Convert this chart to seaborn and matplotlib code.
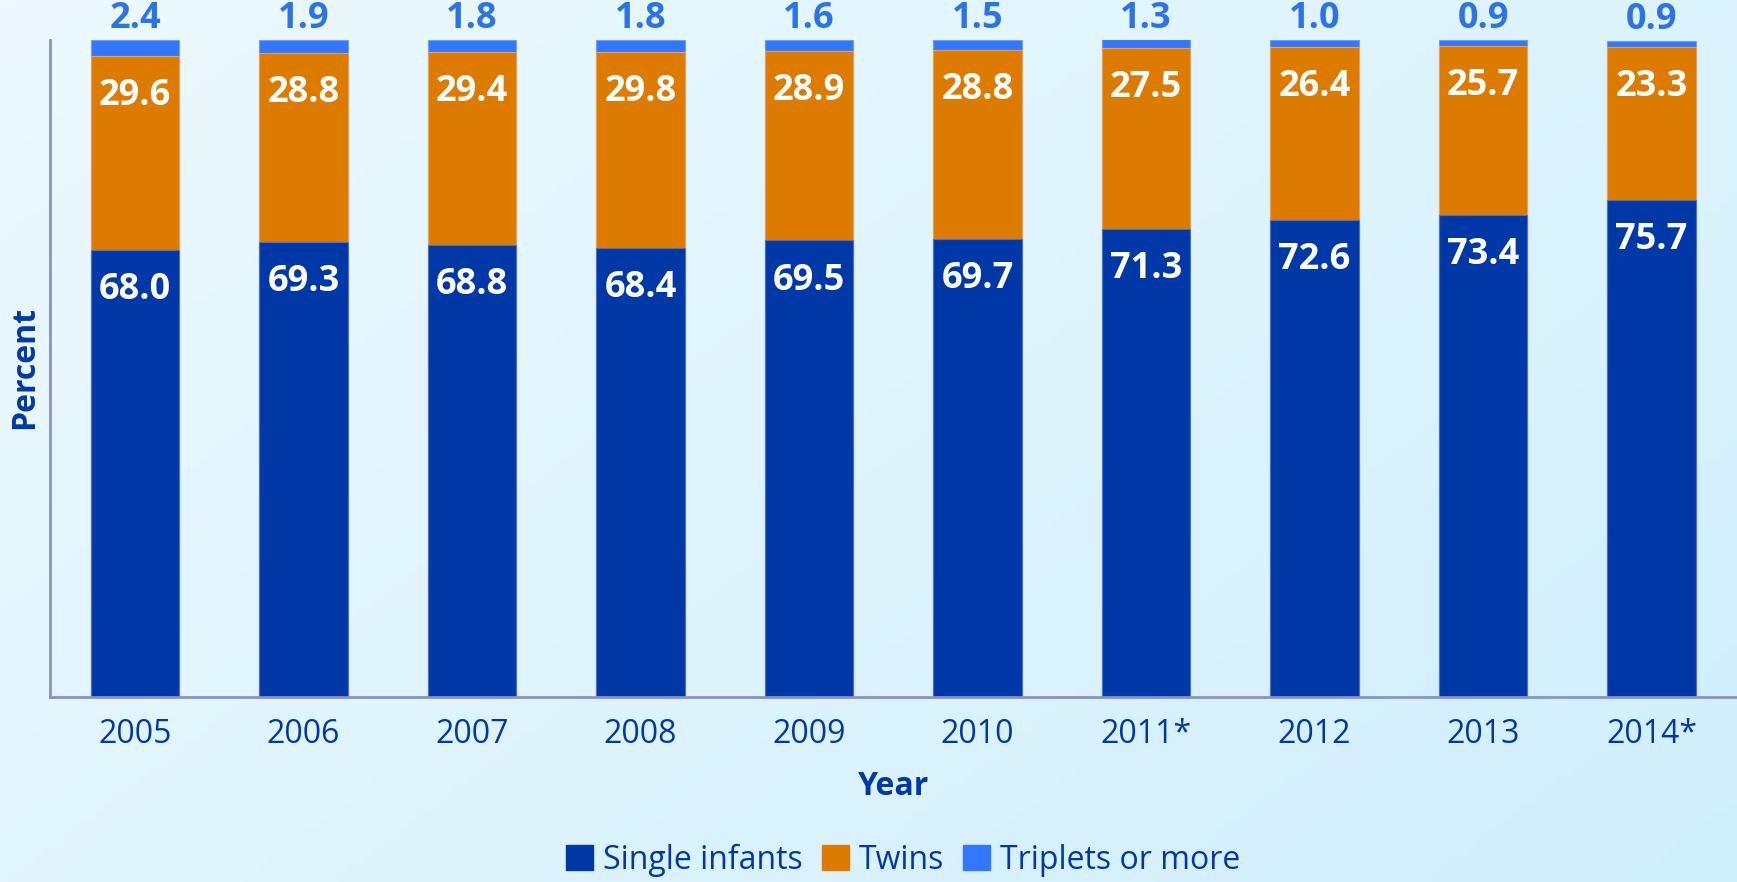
import numpy as np
import pandas as pd
import seaborn as sns
import matplotlib.pyplot as plt
from matplotlib.patches import Patch

years = ["2005", "2006", "2007", "2008", "2009", "2010", "2011*", "2012", "2013", "2014*"]
single = [68.0, 69.3, 68.8, 68.4, 69.5, 69.7, 71.3, 72.6, 73.4, 75.7]
twins = [29.6, 28.8, 29.4, 29.8, 28.9, 28.8, 27.5, 26.4, 25.7, 23.3]
triplets = [2.4, 1.9, 1.8, 1.8, 1.6, 1.5, 1.3, 1.0, 0.9, 0.9]

dark = "#0038A8"
orange = "#DD7A00"
light = "#3377FF"

sns.set_style("white")
plt.rcParams["font.family"] = ["Open Sans", "DejaVu Sans"]

df = pd.DataFrame({"year": years, "single": single, "twins": twins, "triplets": triplets})
df["st"] = df["single"] + df["twins"]
df["total"] = df["st"] + df["triplets"]

fig = plt.figure(figsize=(17.37, 8.82), dpi=100)

# background gradient
bg = fig.add_axes([0, 0, 1, 1], zorder=-10)
gx, gy = np.meshgrid(np.linspace(0, 1, 200), np.linspace(0, 1, 100))
grad = 0.6 * gx + 0.4 * gy
bg.imshow(grad, cmap=sns.blend_palette(["#EDF9FE", "#D0EFFC"], as_cmap=True),
          aspect="auto", extent=[0, 1, 0, 1], origin="upper")
bg.axis("off")

ax = fig.add_axes([0.0288, 0.2098, 0.9712, 0.7448])
ax.set_facecolor("none")

w = 0.526
sns.barplot(data=df, x="year", y="total", color=light, width=w, saturation=1,
            errorbar=None, ax=ax, edgecolor="#6FA0F0", linewidth=0.8)
sns.barplot(data=df, x="year", y="st", color=orange, width=w, saturation=1,
            errorbar=None, ax=ax, edgecolor="#E8A060", linewidth=0.8)
sns.barplot(data=df, x="year", y="single", color=dark, width=w, saturation=1,
            errorbar=None, ax=ax, edgecolor="#5070C0", linewidth=0.8)

for i in range(len(years)):
    ax.annotate(f"{triplets[i]:.1f}", (i, df["total"][i]), xytext=(0, 2),
                textcoords="offset points", ha="center", va="bottom",
                fontsize=26, fontweight="bold", color="#2C74E6",
                annotation_clip=False)
    ax.annotate(f"{twins[i]:.1f}", (i, df["st"][i]), xytext=(0, -16),
                textcoords="offset points", ha="center", va="top",
                fontsize=26, fontweight="bold", color="white")
    ax.annotate(f"{single[i]:.1f}", (i, single[i]), xytext=(0, -16),
                textcoords="offset points", ha="center", va="top",
                fontsize=26, fontweight="bold", color="white")

ax.set_xlim(-0.504, 9.507)
ax.set_ylim(0, 100)
ax.set_yticks([])
ax.tick_params(axis="x", length=0, pad=15, labelsize=23, labelcolor=dark)
ax.set_xlabel("Year", fontsize=23, fontweight="bold", color=dark, labelpad=14)
ax.set_ylabel("")
fig.text(0.014, 0.583, "Percent", rotation=90, ha="center", va="center",
         fontsize=23, fontweight="bold", color=dark)

for s in ["top", "right"]:
    ax.spines[s].set_visible(False)
for s in ["left", "bottom"]:
    ax.spines[s].set_color("#8A90C8")
    ax.spines[s].set_linewidth(2)

handles = [Patch(color=dark, label="Single infants"),
           Patch(color=orange, label="Twins"),
           Patch(color=light, label="Triplets or more")]
leg = fig.legend(handles=handles, loc="center", bbox_to_anchor=(0.52, 0.025),
                 ncol=3, frameon=False, fontsize=23, handlelength=0.85,
                 handleheight=0.85, handletextpad=0.3, columnspacing=0.6)
for t in leg.get_texts():
    t.set_color(dark)

fig.savefig("out.png", dpi=100)
